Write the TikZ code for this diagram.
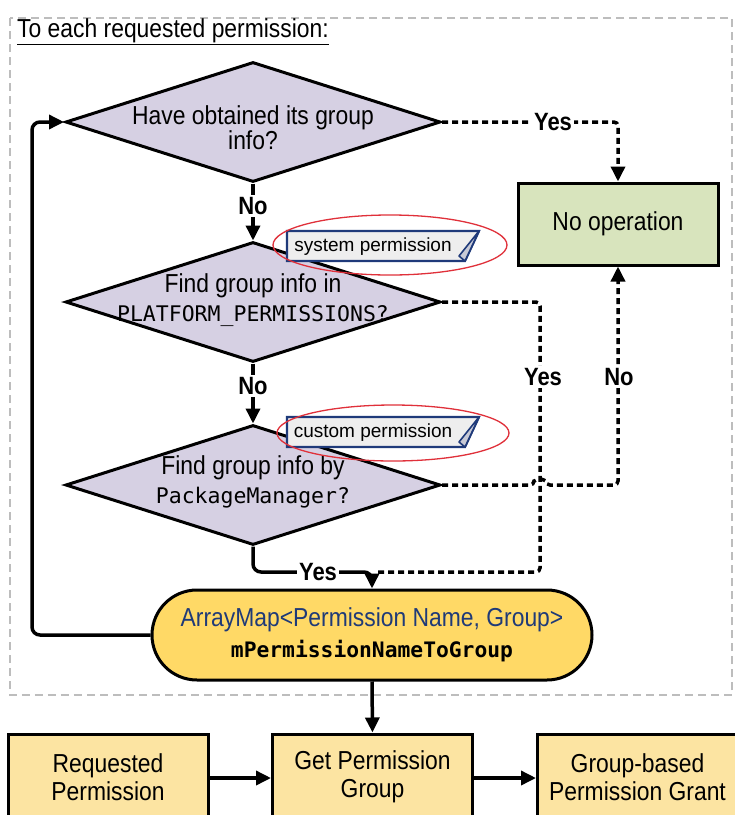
\documentclass[tikz,border=0pt]{standalone}
\usepackage{fontspec}
\setmainfont{Liberation Sans}[FakeStretch=0.88]
\newfontfamily\notefont{Liberation Sans}
\setmonofont{DejaVu Sans Mono}
\usetikzlibrary{arrows.meta,shapes.geometric,calc}

\definecolor{lav}{HTML}{D6D0E3}
\definecolor{okgreen}{HTML}{D8E4BD}
\definecolor{mapyellow}{HTML}{FFD966}
\definecolor{boxyellow}{HTML}{FCE4A2}
\definecolor{mapblue}{HTML}{1F3A78}
\definecolor{notefill}{HTML}{EEEEEE}
\definecolor{foldfill}{HTML}{C8CAD6}
\definecolor{noteline}{HTML}{1F3A7A}
\definecolor{ringred}{HTML}{E0303A}
\definecolor{framegray}{HTML}{BDBDBD}

\tikzset{
  outline/.style={draw=black, line width=3pt},
  decision/.style={outline, diamond, fill=lav, minimum width=375pt, minimum height=120pt, inner sep=0pt},
  procbox/.style={outline, rectangle, fill=boxyellow, minimum width=200pt, minimum height=88pt, inner sep=0pt},
  txt/.style={align=center, font=\fontsize{26}{25}\selectfont, inner sep=0pt},
  lbl/.style={font=\bfseries\fontsize{25}{25}\selectfont, fill=white, inner sep=2pt},
  tip/.style={-{Triangle[length=15pt,width=14pt]}},
  solidline/.style={line width=3.5pt, rounded corners=8pt},
  dotline/.style={line width=3.5pt, dash pattern=on 6pt off 4pt, rounded corners=4pt},
  notebox/.style={draw=noteline, line width=2.2pt, fill=notefill, line join=miter},
  ring/.style={draw=ringred, line width=1.3pt},
  notetext/.style={font=\notefont\fontsize{19}{19}\selectfont, inner sep=0pt}
}

\begin{document}
\begin{tikzpicture}[x=1pt,y=-1pt]
  \useasboundingbox (0,0) rectangle (735,815);
  \clip (0,0) rectangle (735,815);
  \fill[white] (0,0) rectangle (735,815);

  % frame around the per-permission loop
  \draw[framegray, line width=1.5pt, dash pattern=on 8pt off 5pt] (10,18) rectangle (732,695);
  \node[anchor=base west, font=\fontsize{26}{26}\selectfont, inner sep=0pt] (title) at (17,37)
    {\underline{To each requested permission:}};

  % decisions
  \node[decision] (d1) at (253,122) {};
  \node[txt] (d1t) at (253,128) {Have obtained its group\\info?};
  \node[decision] (d2) at (253,302) {};
  \node[txt] (d2t) at (253,300) {Find group info in\\[4pt]{\ttfamily\fontsize{21.5}{25}\selectfont PLATFORM\_PERMISSIONS?}};
  \node[decision] (d3) at (253,485) {};
  \node[txt] (d3t) at (253,482) {Find group info by\\[4pt]{\ttfamily\fontsize{21.5}{25}\selectfont PackageManager?}};

  % outcome boxes
  \node[outline, rectangle, fill=okgreen, minimum width=200pt, minimum height=82pt, inner sep=0pt,
        font=\fontsize{26}{25}\selectfont] (noop) at (618,224) {No operation};
  \node[outline, rectangle, rounded corners=45pt, fill=mapyellow, minimum width=440pt, minimum height=90pt,
        inner sep=0pt] (map) at (372,635) {};
  \node[txt] (mapt) at (372,635)
    {{\color{mapblue}ArrayMap<Permission Name, Group>}\\[6pt]{\ttfamily\bfseries\fontsize{21.3}{25}\selectfont mPermissionNameToGroup}};

  % notes with red rings
  \draw[notebox] (287,231) -- (479,231) -- (465,261) -- (287,261) -- cycle;
  \fill[foldfill, draw=noteline, line width=1.6pt, line join=round] (479,231) -- (459,256) -- (465,261) -- cycle;
  \node[notetext] (sysnote) at (373,247) {system permission};
  \draw[ring] (390,245) ellipse[x radius=117, y radius=30];

  \draw[notebox] (287,417) -- (479,417) -- (465,447) -- (287,447) -- cycle;
  \fill[foldfill, draw=noteline, line width=1.6pt, line join=round] (479,417) -- (459,442) -- (465,447) -- cycle;
  \node[notetext] (cusnote) at (373,433) {custom permission};
  \draw[ring] (393,433) ellipse[x radius=116, y radius=28];

  % bottom row
  \node[procbox] (req) at (108,778) {};
  \node[txt, font=\fontsize{26}{28}\selectfont] (reqt) at (108,777) {Requested\\Permission};
  \node[procbox] (get) at (372.5,778) {};
  \node[txt, font=\fontsize{26}{28}\selectfont] (gett) at (372.5,777) {Get Permission\\Group};
  \node[procbox] (grant) at (637.5,778) {};
  \node[txt, font=\fontsize{26}{28}\selectfont] (grantt) at (637.5,777) {Group-based\\Permission Grant};

  % helper points
  \coordinate (yvert) at (540,572);
  \coordinate (yjoin) at (378,572);
  \coordinate (ybend) at (372,572);
  \coordinate (hopL) at (534,485);
  \coordinate (nvert) at (d3.east -| noop.south);
  \coordinate (loopc) at (32,122);

  % connectors
  \draw[dotline, tip] (d1.east) -| (noop.north);
  \node[lbl] (lyes1) at (553,122) {Yes};

  \draw[solidline, tip] (d1.south) -- (d2.north);
  \node[lbl] (lno1) at (253,206) {No};
  \draw[solidline, tip] (d2.south) -- (d3.north);
  \node[lbl] (lno2) at (253,386) {No};

  \draw[dotline] (d2.east) -| (yvert) -- (yjoin);
  \node[lbl] (lyes2) at (543,377) {Yes};

  \draw[dotline, tip] (d3.east) -- (hopL) arc[start angle=180, end angle=360, radius=6] -- (nvert) -- (noop.south);
  \node[lbl] (lno3) at (619,377) {No};

  \draw[solidline, tip] (d3.south) |- (ybend) -- (map.north);
  \node[lbl] (lyes3) at (318,572) {Yes};

  \draw[solidline, tip] (map.west) -| (loopc) -- (d1.west);
  \draw[solidline, tip] (map.south) -- (get.north);
  \draw[solidline, tip] (req.east) -- (get.west);
  \draw[solidline, tip] (get.east) -- (grant.west);
\end{tikzpicture}
\end{document}
